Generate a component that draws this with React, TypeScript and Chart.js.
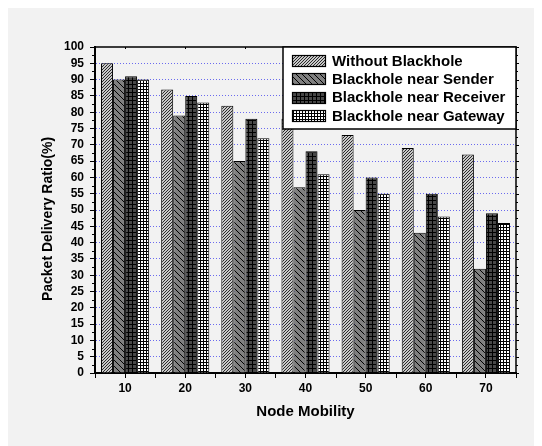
import React, { useEffect, useRef } from "react";
import { Chart, registerables } from "chart.js";

Chart.register(...registerables);

const categories = ["10", "20", "30", "40", "50", "60", "70"];
const withoutBlackhole = [95, 87, 82, 78, 73, 69, 67];
const nearSender = [90, 79, 65, 57, 50, 43, 32];
const nearReceiver = [91, 85, 78, 68, 60, 55, 49];
const nearGateway = [90, 83, 72, 61, 55, 48, 46];
const seriesLabels = [
  "Without Blackhole",
  "Blackhole near Sender",
  "Blackhole near Receiver",
  "Blackhole near Gateway",
];
const xTitle = "Node Mobility";
const yTitle = "Packet Delivery Ratio(%)";
const yMin = 0;
const yMax = 100;
const yStep = 5;

const FONT = "'Liberation Sans', Arial, sans-serif";

function makePattern(kind: string): CanvasPattern | string {
  const c = document.createElement("canvas");
  const px = (ctx: CanvasRenderingContext2D, x: number, y: number, col: string) => {
    ctx.fillStyle = col;
    ctx.fillRect(x, y, 1, 1);
  };
  let ctx: CanvasRenderingContext2D;
  if (kind === "without") {
    c.width = 3; c.height = 3;
    ctx = c.getContext("2d")!;
    ctx.fillStyle = "#c8c8c8";
    ctx.fillRect(0, 0, 3, 3);
    px(ctx, 2, 0, "#2a2a2a");
    px(ctx, 1, 1, "#2a2a2a");
    px(ctx, 0, 2, "#2a2a2a");
  } else if (kind === "sender") {
    c.width = 6; c.height = 6;
    ctx = c.getContext("2d")!;
    ctx.fillStyle = "#808080";
    ctx.fillRect(0, 0, 6, 6);
    for (let i = 0; i < 6; i++) px(ctx, i, i, "#000");
  } else if (kind === "receiver") {
    c.width = 4; c.height = 4;
    ctx = c.getContext("2d")!;
    ctx.fillStyle = "#484848";
    ctx.fillRect(0, 0, 4, 4);
    ctx.fillStyle = "#000";
    ctx.fillRect(0, 0, 4, 1);
    ctx.fillRect(0, 0, 1, 4);
  } else {
    c.width = 3; c.height = 3;
    ctx = c.getContext("2d")!;
    ctx.fillStyle = "#ffffff";
    ctx.fillRect(0, 0, 3, 3);
    ctx.fillStyle = "#000";
    ctx.fillRect(0, 0, 3, 1);
    ctx.fillRect(0, 0, 1, 3);
  }
  const p = ctx.createPattern(c, "repeat");
  return p || "#888";
}

const framePlugin = {
  id: "framePlugin",
  afterDraw(chart: any) {
    const { ctx, chartArea } = chart;
    const { left, right, top, bottom } = chartArea;
    const y = chart.scales.y;
    const x = chart.scales.x;
    ctx.save();
    ctx.strokeStyle = "#000";
    // top & right border
    ctx.lineWidth = 1.5;
    ctx.beginPath();
    ctx.moveTo(left, top);
    ctx.lineTo(right, top);
    ctx.lineTo(right, bottom);
    ctx.stroke();
    // y minor ticks (left) and right mirror ticks
    ctx.lineWidth = 1;
    for (let v = yMin + yStep / 2; v < yMax; v += yStep) {
      const py = Math.round(y.getPixelForValue(v)) + 0.5;
      ctx.beginPath();
      ctx.moveTo(left - 3, py);
      ctx.lineTo(left, py);
      ctx.stroke();
    }
    for (let v = yMin; v <= yMax; v += yStep / 2) {
      const py = Math.round(y.getPixelForValue(v)) + 0.5;
      const major = Math.abs(v / yStep - Math.round(v / yStep)) < 1e-6;
      ctx.beginPath();
      ctx.moveTo(right, py);
      ctx.lineTo(right + (major ? 3 : 2), py);
      ctx.stroke();
    }
    // x boundary ticks
    const n = categories.length;
    const w = (right - left) / n;
    for (let i = 0; i <= n; i++) {
      const px = Math.round(left + i * w) + 0.5;
      ctx.beginPath();
      ctx.moveTo(px, bottom);
      ctx.lineTo(px, bottom + 5);
      ctx.stroke();
    }
    // top ticks (inward, small)
    for (let i = 0; i < n; i++) {
      const cx = Math.round(x.getPixelForValue(i)) + 0.5;
      ctx.beginPath();
      ctx.moveTo(cx, top);
      ctx.lineTo(cx, top + 2);
      ctx.stroke();
    }
    // Y title
    ctx.fillStyle = "#000";
    ctx.font = `bold 14px ${FONT}`;
    ctx.textAlign = "center";
    ctx.textBaseline = "middle";
    ctx.translate(40, 211);
    ctx.rotate(-Math.PI / 2);
    ctx.fillText(yTitle, 0, 0);
    ctx.restore();

    // Legend
    ctx.save();
    const lw = 233;
    const lh = 82;
    const lx = right - lw;
    const ly = top;
    ctx.fillStyle = "#ffffff";
    ctx.fillRect(lx, ly, lw, lh);
    ctx.strokeStyle = "#000";
    ctx.lineWidth = 1.5;
    ctx.strokeRect(lx, ly, lw, lh);
    chart.data.datasets.forEach((ds: any, i: number) => {
      const cy = ly + 14 + i * 18.3;
      const bx = lx + 9;
      const by = Math.round(cy - 6);
      ctx.fillStyle = ds.backgroundColor;
      ctx.fillRect(bx, by, 34, 12);
      ctx.lineWidth = 1.2;
      ctx.strokeStyle = "#000";
      ctx.strokeRect(bx + 0.5, by + 0.5, 33, 11);
      ctx.fillStyle = "#000";
      ctx.font = `bold 15px ${FONT}`;
      ctx.textAlign = "left";
      ctx.textBaseline = "middle";
      ctx.fillText(ds.label, lx + 49, cy + 0.5);
    });
    ctx.restore();
  },
};

export default function App() {
  const ref = useRef<HTMLCanvasElement | null>(null);
  useEffect(() => {
    if (!ref.current) return;
    const kinds = ["without", "sender", "receiver", "gateway"];
    const values = [withoutBlackhole, nearSender, nearReceiver, nearGateway];
    const tickFont = { family: FONT, weight: "bold" as const, size: 12 };
    const chart = new Chart(ref.current, {
      type: "bar",
      data: {
        labels: categories,
        datasets: values.map((v, i) => ({
          label: seriesLabels[i],
          data: v,
          backgroundColor: makePattern(kinds[i]) as any,
          borderColor: "#000",
          borderWidth: 1,
          categoryPercentage: 0.8,
          barPercentage: 1.0,
        })),
      },
      options: {
        animation: false,
        responsive: false,
        devicePixelRatio: 1,
        layout: { padding: { left: 28, right: 26, top: 39, bottom: 21 } },
        plugins: {
          legend: { display: false },
          tooltip: { enabled: false },
        },
        scales: {
          x: {
            offset: true,
            grid: {
              offset: false,
              drawOnChartArea: false,
              drawTicks: true,
              tickLength: 5,
              tickColor: "#000",
              tickWidth: 1,
            },
            border: { display: true, color: "#000", width: 2 },
            ticks: { color: "#000", font: tickFont, padding: 3, maxRotation: 0 },
            title: {
              display: true,
              text: xTitle,
              color: "#000",
              font: { family: FONT, weight: "bold", size: 15 },
              padding: 4,
            },
            afterFit: (s: any) => {
              s.height = 52;
            },
          },
          y: {
            min: yMin,
            max: yMax,
            ticks: {
              stepSize: yStep,
              color: "#000",
              font: tickFont,
              padding: 6,
              autoSkip: false,
            },
            grid: {
              color: (c: any) =>
                c.tick && (c.tick.value === yMin || c.tick.value === yMax)
                  ? "rgba(0,0,0,0)"
                  : "#6b6bee",
              lineWidth: 1,
              tickLength: 5,
              tickColor: "#000",
              tickWidth: 1,
            },
            border: { display: true, color: "#000", width: 2, dash: [1, 2] },
            afterFit: (s: any) => {
              s.width = 59;
            },
          },
        },
      },
      plugins: [framePlugin],
    });
    return () => chart.destroy();
  }, []);
  return (
    <canvas
      ref={ref}
      width={534}
      height={438}
      style={{ display: "block", width: 534, height: 438, background: "#f2f2f2" }}
    />
  );
}
